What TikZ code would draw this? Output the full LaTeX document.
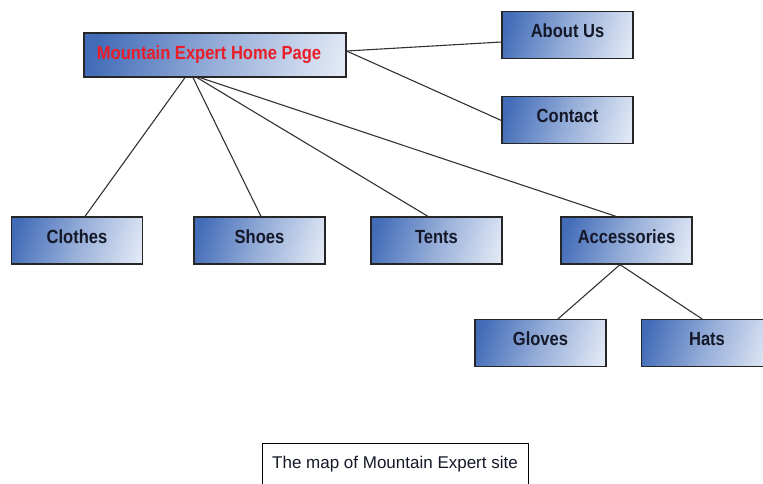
\documentclass[tikz,border=0pt]{standalone}
\usepackage{fontspec}
\setmainfont{Liberation Sans}
\newfontfamily\narrowfont{Liberation Sans}[FakeStretch=0.87]
\usetikzlibrary{calc}
\definecolor{boxdark}{RGB}{66,108,184}
\definecolor{boxlight}{RGB}{232,238,248}
\definecolor{linegray}{RGB}{50,50,50}
\definecolor{homered}{RGB}{232,30,40}
\definecolor{textdark}{RGB}{20,24,40}
\pgfdeclarehorizontalshading{boxshade}{100bp}{color(0bp)=(boxdark); color(22bp)=(boxdark); color(50bp)=(boxdark!50!boxlight); color(82bp)=(boxlight); color(100bp)=(boxlight)}
\tikzset{
  pagebox/.style={draw=black!85, line width=1.2pt, minimum width=131pt, minimum height=47pt,
    inner sep=0pt, shading=boxshade, shading angle=-18,
    font=\narrowfont\bfseries\fontsize{19}{22}\selectfont, text=textdark,
    text height=14pt, text depth=9pt},
  link/.style={draw=linegray, line width=1.1pt},
}
\begin{document}
\begin{tikzpicture}[x=1pt,y=-1pt]
\useasboundingbox (0,0) rectangle (763,484);
\node[pagebox, minimum width=262pt, minimum height=44pt, text=homered,
  text height=13pt, text depth=4.4pt] (home) at (215,55) {Mountain Expert Home Page\hspace*{12pt}};
\node[pagebox] (about) at (567.5,35) {About Us};
\node[pagebox] (contact) at (567.5,120) {Contact};
\node[pagebox] (clothes) at (77,240.5) {Clothes};
\node[pagebox] (shoes) at (259.5,240.5) {Shoes};
\node[pagebox] (tents) at (436.5,240.5) {Tents};
\node[pagebox] (acc) at (626.5,240.5) {Accessories};
\node[pagebox] (gloves) at (540.5,343) {Gloves};
\node[pagebox] (hats) at (707,343) {Hats};
\node[draw=black, line width=0.8pt, minimum width=266pt, minimum height=46pt, inner sep=0pt,
  anchor=north, font=\fontsize{17}{20}\selectfont, text=textdark, text depth=0pt] (cap) at (395,443) {\raisebox{9pt}{The map of Mountain Expert site}};
\draw[link] ([yshift=4pt]home.east) -- ([yshift=-7pt]about.west);
\draw[link] ([yshift=4pt]home.east) -- ([yshift=-0.5pt]contact.west);
\draw[link] ([xshift=-30pt]home.south) -- ([xshift=8pt]clothes.north);
\draw[link] ([xshift=-22pt]home.south) -- ([xshift=1.5pt]shoes.north);
\draw[link] ([xshift=-18pt]home.south) -- ([xshift=-8.5pt]tents.north);
\draw[link] ([xshift=-15pt]home.south) -- ([xshift=-10.5pt]acc.north);
\draw[link] ([xshift=-6.5pt]acc.south) -- ([xshift=17.5pt]gloves.north);
\draw[link] ([xshift=-6.5pt]acc.south) -- ([xshift=-5pt]hats.north);
\end{tikzpicture}
\end{document}
